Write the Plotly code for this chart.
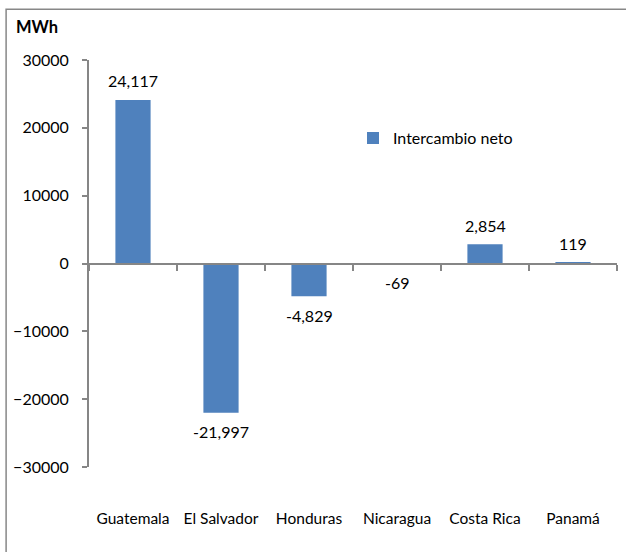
import plotly.graph_objects as go

categories = ["Guatemala", "El Salvador", "Honduras", "Nicaragua", "Costa Rica", "Panamá"]
values = [24117, -21997, -4829, -69, 2854, 119]
series_name = "Intercambio neto"
y_ticks = [-30000, -20000, -10000, 0, 10000, 20000, 30000]

FONT = "Lato"
BAR = "#4F81BD"
AXIS = "#868686"

fig = go.Figure()
fig.add_trace(go.Bar(
    x=categories, y=values, name=series_name,
    marker=dict(color=BAR, line=dict(width=0)),
    width=0.4, showlegend=True,
))
# helper trace for the category axis drawn at the zero line
fig.add_trace(go.Scatter(
    x=[None], y=[None], xaxis="x2", yaxis="y",
    showlegend=False, hoverinfo="skip",
))

for c, v in zip(categories, values):
    fig.add_annotation(
        x=c, y=v, text=f"{v:,}", showarrow=False,
        yshift=19 if v >= 0 else -19,
        font=dict(family=FONT, size=16, color="black"),
    )

fig.add_annotation(
    xref="paper", yref="paper", x=-0.142, y=1.081,
    xanchor="left", yanchor="middle", text="<b>MWh</b>", showarrow=False,
    font=dict(family=FONT, size=16.5, color="black"),
)

fig.add_shape(
    type="rect", xref="paper", yref="paper",
    x0=-0.157, x1=1.03, y0=-0.24, y1=1.125,
    line=dict(color="#878787", width=1.5), layer="below",
)

n = len(categories)
fig.update_layout(
    width=626, height=552,
    margin=dict(l=89, r=9, t=60, b=85),
    paper_bgcolor="white", plot_bgcolor="white",
    font=dict(family=FONT, size=16, color="black"),
    bargap=0.6,
    xaxis=dict(
        type="category", showline=False, ticks="", showgrid=False,
        zeroline=False, ticklabelstandoff=40,
        tickfont=dict(family=FONT, size=15.5, color="black"),
    ),
    xaxis2=dict(
        overlaying="x", anchor="free", position=0.5,
        range=[-0.5, n - 0.5],
        tickvals=[i + 0.5 for i in range(-1, n)],
        showticklabels=False, ticks="outside", ticklen=6, tickwidth=1.5,
        tickcolor=AXIS, showline=True, linecolor=AXIS, linewidth=2,
        showgrid=False, zeroline=False,
    ),
    yaxis=dict(
        range=[-30000, 30000], tickvals=y_ticks, tickformat="d",
        showline=True, linecolor=AXIS, linewidth=2,
        ticks="outside", ticklen=5, tickwidth=1.5, tickcolor=AXIS,
        showgrid=False, zeroline=False, ticklabelstandoff=10,
        tickfont=dict(family=FONT, size=16, color="black"),
    ),
    legend=dict(
        x=0.50, y=0.808, xanchor="left", yanchor="middle",
        font=dict(family=FONT, size=16, color="black"),
        bgcolor="rgba(0,0,0,0)", itemwidth=30,
    ),
)

fig.write_html(
    "out.html",
    config={"displayModeBar": False},
    post_script="document.body.style.margin='0';",
)
